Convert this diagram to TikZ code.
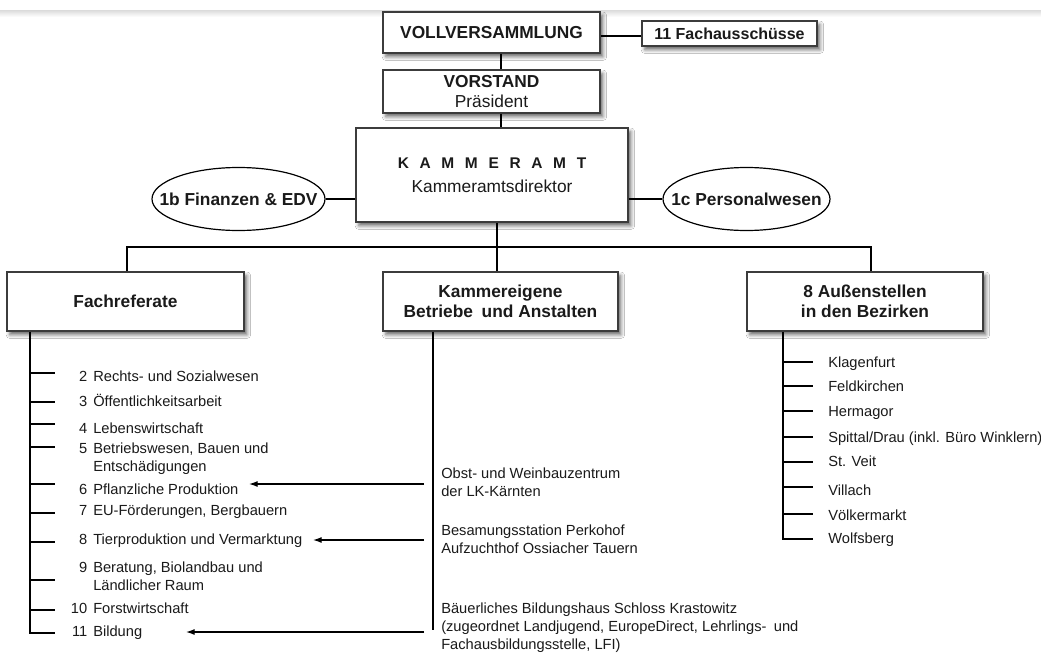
\documentclass[tikz,border=0pt]{standalone}
\usepackage{fontspec}
\setmainfont{Liberation Sans}
\usetikzlibrary{shapes.geometric,shadows.blur,arrows.meta}
\definecolor{ink}{HTML}{1A1A1A}
\definecolor{frame}{HTML}{3C3C3C}
\newcommand\numbox[1]{\makebox[11.25pt][r]{#1}\hspace{4.5pt}}
\newcommand\contind{\hspace*{15.75pt}}
\newcommand\mlines[1]{\begin{tabular}[t]{@{}l@{}}#1\end{tabular}}
\begin{document}
\begin{tikzpicture}[x=0.75pt,y=-0.75pt,
  every node/.style={text=ink},
  box/.style={draw=frame, line width=1.2pt, fill=white, inner sep=0pt, align=center,
    blur shadow={shadow xshift=2.2pt, shadow yshift=-2.8pt, shadow blur radius=2.8pt, shadow opacity=60}},
  oval/.style={ellipse, draw=black, line width=0.9pt, fill=white, inner sep=0pt,
    font=\fontsize{13}{15}\selectfont\bfseries},
  conn/.style={draw=black, line width=0.9pt},
  arr/.style={conn, -{Latex[length=6.5pt,width=4.5pt]}},
  item/.style={anchor=base west, inner sep=0pt, font=\fontsize{11}{13.5}\selectfont},
  title/.style={font=\fontsize{13}{15}\selectfont\bfseries}]
\useasboundingbox (0,0) rectangle (1041,653);
\fill[white] (0,0) rectangle (1041,653);
\shade[top color=black!14, bottom color=white] (0,10) rectangle (1041,17);

% boxes
\node[box, title, minimum width=162.75pt, minimum height=30.75pt] (voll) at (491.5,32.5) {VOLLVERSAMMLUNG};
\node[box, minimum width=131.25pt, minimum height=18.75pt, font=\fontsize{12}{14}\selectfont\bfseries] (fa) at (729.5,33.5) {11 Fachausschüsse};
\node[box, minimum width=162.75pt, minimum height=32.25pt, font=\fontsize{13}{15}\selectfont] (vor) at (491.5,91.5) {\textbf{VORSTAND}\\Präsident};
\node[box, minimum width=204pt, minimum height=70.5pt, font=\fontsize{13}{18}\selectfont] (ka) at (492,175)
  {{\fontsize{11.6}{18}\selectfont\bfseries K\hspace{8pt}A\hspace{8pt}M\hspace{8pt}M\hspace{8pt}E\hspace{8pt}R\hspace{8pt}A\hspace{8pt}M\hspace{8pt}T}\\Kammeramtsdirektor};
\node[oval, minimum width=129.75pt, minimum height=47.25pt] (fin) at (238.5,199) {\makebox[0pt]{1b Finanzen \& EDV}};
\node[oval, minimum width=125.25pt, minimum height=47.25pt] (pers) at (746.5,199) {\makebox[0pt]{1c Personalwesen}};
\node[box, title, minimum width=177.75pt, minimum height=44.25pt] (fr) at (125.5,301.5) {Fachreferate};
\node[box, title, minimum width=176.25pt, minimum height=44.25pt] (kb) at (500.5,301.5) {Kammereigene\\Betriebe\enspace und Anstalten};
\node[box, title, minimum width=177pt, minimum height=44.25pt] (as) at (865,301.5) {8 Außenstellen\\in den Bezirken};

% helper coordinates
\coordinate (x501) at (501,0);
\coordinate (x497) at (497,0);
\coordinate (x127) at (127,0);
\coordinate (x871) at (871,0);
\coordinate (x30) at (30,0);
\coordinate (x433) at (433,0);
\coordinate (x783) at (783,0);
\coordinate (ybus) at (0,247);
\coordinate (y36) at (0,36);

% upper connectors
\draw[conn] (voll.east |- y36) -- (fa.west |- y36);
\draw[conn] (voll.south -| x501) -- (vor.north -| x501);
\draw[conn] (vor.south -| x501) -- (ka.north -| x501);
\draw[conn] (fin.east) -- (fin.east -| ka.west);
\draw[conn] (pers.west -| ka.east) -- (pers.west);
\draw[conn] (ka.south -| x497) -- (kb.north -| x497);
\draw[conn] (fr.north -| x127) -- (x127 |- ybus) -- (x871 |- ybus) -- (as.north -| x871);

% Fachreferate list
\coordinate (frend) at (30,633);
\coordinate (frtick) at (55,633);
\draw[conn] (fr.south -| x30) -- (frend) -- (frtick);
\foreach \y in {373,402,424,447,484,513,542,580,610} \draw[conn] (30,\y) -- (55,\y);
\node[item] (r2) at (72,381) {\numbox{2}Rechts- und Sozialwesen};
\node[item] (r3) at (72,406) {\numbox{3}Öffentlichkeitsarbeit};
\node[item] (r4) at (72,433) {\numbox{4}Lebenswirtschaft};
\node[item] (r5) at (72,453) {\mlines{\numbox{5}Betriebswesen, Bauen und\\\contind Entschädigungen}};
\node[item] (r6) at (72,494) {\numbox{6}Pflanzliche Produktion};
\node[item] (r7) at (72,515) {\numbox{7}EU-Förderungen, Bergbauern};
\node[item] (r8) at (72,544) {\numbox{8}Tierproduktion und Vermarktung};
\node[item] (r9) at (72,572) {\mlines{\numbox{9}Beratung, Biolandbau und\\\contind Ländlicher Raum}};
\node[item] (r10) at (72,613) {\numbox{10}Forstwirtschaft};
\node[item] (r11) at (72,636) {\numbox{11}Bildung};

% Kammereigene Betriebe
\coordinate (kbend) at (433,630);
\draw[conn] (kb.south -| x433) -- (kbend);
\node[item] (obst) at (441,478) {\mlines{Obst- und Weinbauzentrum\\der LK-Kärnten}};
\node[item] (besam) at (441,535) {\mlines{Besamungsstation Perkohof\\Aufzuchthof Ossiacher Tauern}};
\node[item] (bild) at (441,613) {\mlines{Bäuerliches Bildungshaus Schloss Krastowitz\\(zugeordnet Landjugend, EuropeDirect, Lehrlings-\enspace und\\Fachausbildungsstelle, LFI)}};
\coordinate (a6s) at (424,484); \coordinate (a6e) at (249,484);
\coordinate (a8s) at (424,540); \coordinate (a8e) at (313,540);
\coordinate (a11s) at (424,632); \coordinate (a11e) at (186,632);
\draw[arr] (a6s) -- (a6e);
\draw[arr] (a8s) -- (a8e);
\draw[arr] (a11s) -- (a11e);

% Aussenstellen list
\coordinate (asend) at (783,539);
\coordinate (astick) at (813,539);
\draw[conn] (as.south -| x783) -- (asend) -- (astick);
\foreach \y in {362,386,411,437,462,487,514} \draw[conn] (783,\y) -- (813,\y);
\node[item] (b1) at (828,367) {Klagenfurt};
\node[item] (b2) at (828,391) {Feldkirchen};
\node[item] (b3) at (828,416) {Hermagor};
\node[item] (b4) at (828,442) {Spittal/Drau (inkl. Büro Winklern)};
\node[item] (b5) at (828,466) {St. Veit};
\node[item] (b6) at (828,495) {Villach};
\node[item] (b7) at (828,520) {Völkermarkt};
\node[item] (b8) at (828,543) {Wolfsberg};
\end{tikzpicture}
\end{document}
